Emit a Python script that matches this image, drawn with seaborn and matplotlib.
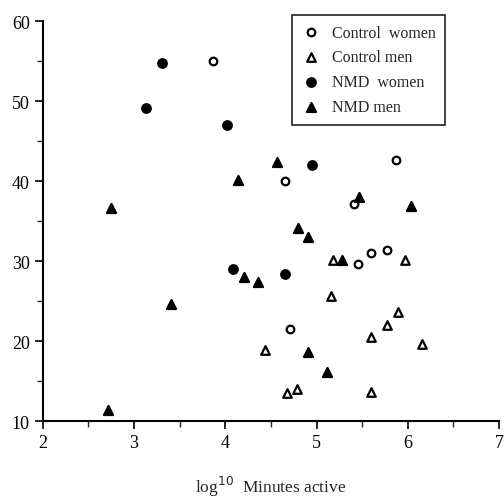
import matplotlib
matplotlib.use("Agg")
import matplotlib.pyplot as plt
import seaborn as sns
import pandas as pd
from matplotlib.ticker import MultipleLocator

# Data
cw_x = [3.87, 4.65, 5.87, 5.41, 5.46, 5.60, 5.77, 4.71]
cw_y = [55.0, 40.0, 42.6, 37.2, 29.7, 31.0, 31.4, 21.5]
cm_x = [5.18, 5.97, 5.16, 5.89, 5.77, 5.60, 6.16, 4.44, 4.68, 4.79, 5.60]
cm_y = [30.1, 30.1, 25.7, 23.6, 22.0, 20.5, 19.7, 18.9, 13.5, 14.0, 13.6]
nw_x = [3.31, 3.13, 4.02, 4.95, 4.65, 4.08]
nw_y = [54.7, 49.1, 47.0, 42.0, 28.4, 29.0]
nm_x = [4.57, 4.14, 2.75, 5.47, 6.04, 4.80, 4.91, 5.28, 4.91, 5.12, 4.36, 4.20, 3.41, 2.71]
nm_y = [42.4, 40.1, 36.6, 38.0, 36.9, 34.2, 33.0, 30.1, 18.6, 16.2, 27.4, 28.0, 24.7, 11.4]

groups = ["Control  women", "Control men", "NMD  women", "NMD men"]

sns.set_style("ticks")
plt.rcParams["font.family"] = ["Liberation Serif", "DejaVu Serif"]

frames = []
for g, xs, ys in zip(groups, [cw_x, cm_x, nw_x, nm_x], [cw_y, cm_y, nw_y, nm_y]):
    frames.append(pd.DataFrame({"x": xs, "y": ys, "group": g}))
df = pd.concat(frames, ignore_index=True)

styles = {
    "Control  women": dict(marker="o", facecolor="white", s=30),
    "Control men": dict(marker="^", facecolor="white", s=38),
    "NMD  women": dict(marker="o", facecolor="black", s=38),
    "NMD men": dict(marker="^", facecolor="black", s=42),
}

fig = plt.figure(figsize=(5.04, 5.02), dpi=100)
ax = fig.add_axes([0.085, 0.159, 0.905, 0.797])

for g in groups:
    st = styles[g]
    sub = df[df["group"] == g]
    sns.scatterplot(data=sub, x="x", y="y", ax=ax, marker=st["marker"],
                    s=st["s"], color=st["facecolor"], edgecolor="black",
                    linewidth=1.6, label=g, zorder=3)

ax.set_xlim(2, 7)
ax.set_ylim(10, 60)
ax.xaxis.set_major_locator(MultipleLocator(1))
ax.xaxis.set_minor_locator(MultipleLocator(0.5))
ax.yaxis.set_major_locator(MultipleLocator(10))
ax.yaxis.set_minor_locator(MultipleLocator(5))
ax.tick_params(axis="both", which="major", direction="out", length=6, width=1.2,
               labelsize=13, colors="black")
ax.tick_params(axis="both", which="minor", direction="out", length=4, width=1.0)
ax.tick_params(axis="x", pad=3)
for side in ["top", "right"]:
    ax.spines[side].set_visible(False)
for side in ["left", "bottom"]:
    ax.spines[side].set_linewidth(1.5)
    ax.spines[side].set_color("black")

ax.set_ylabel("")
ax.set_xlabel("log$^{10}$  Minutes active", fontsize=12.5, labelpad=17)

leg = ax.legend(loc="upper left", bbox_to_anchor=(292 / 504, 1 - 16 / 502),
                bbox_transform=fig.transFigure, borderaxespad=0,
                frameon=True, fancybox=False,
                fontsize=11.5, handletextpad=0.7, labelspacing=0.55,
                borderpad=0.6, handlelength=1.2)
leg.get_frame().set_edgecolor("black")
leg.get_frame().set_linewidth(1.3)

fig.savefig("out.png", dpi=100, facecolor="white")
